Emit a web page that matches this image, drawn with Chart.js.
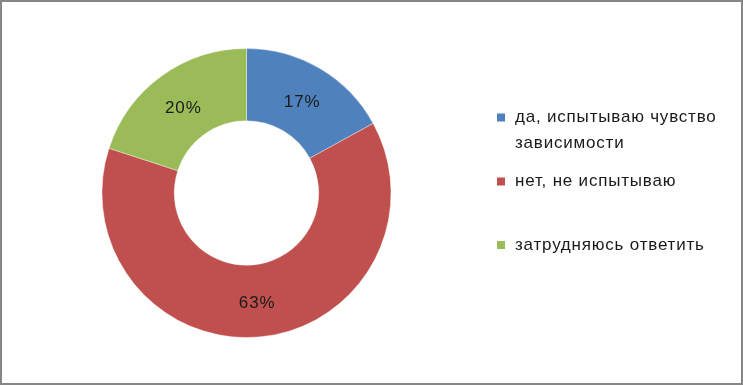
<!DOCTYPE html>
<html><head><meta charset="utf-8">
<script src="https://cdn.jsdelivr.net/npm/chart.js@4/dist/chart.umd.min.js"></script>
<style>html,body{margin:0;padding:0;background:#fff}#w{width:743px;height:385px;position:relative}</style>
</head><body><div id="w"><canvas id="c" width="743" height="385"></canvas></div>
<script>
const categories = ["да, испытываю чувство зависимости", "нет, не испытываю", "затрудняюсь ответить"];
const legendLines = [["да, испытываю чувство", "зависимости"], ["нет, не испытываю"], ["затрудняюсь ответить"]];
const values = [17, 63, 20];
const colors = ["#4F81BD", "#C0504D", "#9BBB59"];

const FONT = '"Liberation Sans", Arial, sans-serif';

const framePlugin = {
  id: 'frame',
  beforeDraw(chart) {
    const ctx = chart.ctx;
    ctx.save();
    ctx.fillStyle = '#fff';
    ctx.fillRect(0, 0, chart.width, chart.height);
    ctx.restore();
  },
  afterDraw(chart) {
    const ctx = chart.ctx;
    ctx.save();
    ctx.strokeStyle = '#868686';
    ctx.lineWidth = 2;
    ctx.strokeRect(1, 1, chart.width - 2, chart.height - 2);
    ctx.restore();
  }
};

const labelPlugin = {
  id: 'pctLabels',
  afterDatasetsDraw(chart) {
    const ctx = chart.ctx;
    const meta = chart.getDatasetMeta(0);
    const ds = chart.data.datasets[0].data;
    const total = ds.reduce((a, b) => a + b, 0);
    ctx.save();
    ctx.font = '17px ' + FONT;
    ctx.letterSpacing = '0.9px';
    ctx.fillStyle = '#1a1a1a';
    ctx.textAlign = 'center';
    ctx.textBaseline = 'middle';
    meta.data.forEach((arc, i) => {
      const p = arc.tooltipPosition();
      ctx.fillText(Math.round(ds[i] / total * 100) + '%', p.x + 0.5, p.y + 2.5);
    });
    ctx.restore();
  }
};

const legendPlugin = {
  id: 'sideLegend',
  afterDraw(chart) {
    const ctx = chart.ctx;
    const rowsY = [117.5, 181.5, 245];
    const lineH = 26;
    ctx.save();
    ctx.font = '17px ' + FONT;
    ctx.letterSpacing = '0.8px';
    ctx.textBaseline = 'middle';
    ctx.textAlign = 'left';
    legendLines.forEach((lines, i) => {
      const y = rowsY[i];
      ctx.fillStyle = chart.data.datasets[0].backgroundColor[i];
      ctx.fillRect(497, y - 4, 8, 8);
      ctx.fillStyle = '#1a1a1a';
      lines.forEach((t, j) => ctx.fillText(t, 515, y + j * lineH));
    });
    ctx.restore();
  }
};

new Chart(document.getElementById('c'), {
  type: 'doughnut',
  data: {
    labels: categories,
    datasets: [{
      data: values,
      backgroundColor: colors,
      borderColor: 'rgba(255,255,255,0.35)',
      borderWidth: 1
    }]
  },
  options: {
    responsive: false,
    animation: false,
    cutout: '50%',
    layout: { padding: { left: 101.5, right: 351.5, top: 48, bottom: 47 } },
    plugins: { legend: { display: false }, tooltip: { enabled: false } }
  },
  plugins: [framePlugin, labelPlugin, legendPlugin]
});
</script></body></html>
